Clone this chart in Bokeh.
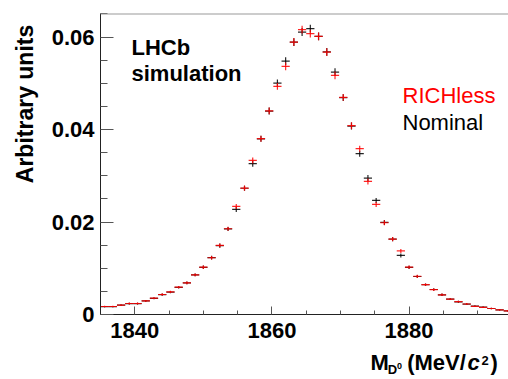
import math
import numpy as np
from bokeh.plotting import figure
from bokeh.layouts import column, row
from bokeh.models import ColumnDataSource, Range1d, FixedTicker, Label, Span
from bokeh.embed import file_html
from bokeh.resources import INLINE

# ---------------- data ----------------
mass_bins = [1835.6, 1836.8, 1838.0, 1839.2, 1840.4, 1841.6, 1842.8, 1844.0, 1845.2, 1846.4,
             1847.6, 1848.8, 1850.0, 1851.2, 1852.4, 1853.6, 1854.8, 1856.0, 1857.2, 1858.4,
             1859.6, 1860.8, 1862.0, 1863.2, 1864.4, 1865.6, 1866.8, 1868.0, 1869.2, 1870.4,
             1871.6, 1872.8, 1874.0, 1875.2, 1876.4, 1877.6, 1878.8, 1880.0, 1881.2, 1882.4,
             1883.6, 1884.8, 1886.0, 1887.2, 1888.4, 1889.6, 1890.8, 1892.0, 1893.2, 1894.4]

richless = [0.00173, 0.00173, 0.00201, 0.00238, 0.00238, 0.00296, 0.00353, 0.00433, 0.00491, 0.00591,
            0.00686, 0.00859, 0.01024, 0.01227, 0.01493, 0.01855, 0.02337, 0.02733, 0.03333, 0.03802,
            0.04404, 0.04934, 0.05367, 0.05893, 0.06161, 0.06074, 0.06016, 0.05676, 0.05172, 0.04696,
            0.04083, 0.03586, 0.02878, 0.02380, 0.01984, 0.01630, 0.01374, 0.01024, 0.00827, 0.00645,
            0.00537, 0.00426, 0.00331, 0.00277, 0.00227, 0.00177, 0.00156, 0.00130, 0.00102, 0.00080]

nominal = [0.00170, 0.00170, 0.00203, 0.00235, 0.00236, 0.00294, 0.00350, 0.00430, 0.00485, 0.00588,
           0.00684, 0.00855, 0.01020, 0.01230, 0.01490, 0.01850, 0.02272, 0.02730, 0.03261, 0.03800,
           0.04400, 0.05005, 0.05481, 0.05890, 0.06109, 0.06183, 0.06016, 0.05680, 0.05243, 0.04690,
           0.04075, 0.03478, 0.02950, 0.02467, 0.01991, 0.01630, 0.01277, 0.01020, 0.00822, 0.00643,
           0.00541, 0.00426, 0.00331, 0.00275, 0.00223, 0.00180, 0.00158, 0.00130, 0.00102, 0.00080]

stat_err = [0.00015, 0.00015, 0.00015, 0.00020, 0.00020, 0.00020, 0.00020, 0.00025, 0.00025, 0.00025,
            0.00030, 0.00030, 0.00038, 0.00038, 0.00045, 0.00045, 0.00055, 0.00055, 0.00065, 0.00065,
            0.00075, 0.00075, 0.00085, 0.00085, 0.00085, 0.00085, 0.00085, 0.00085, 0.00085, 0.00075,
            0.00075, 0.00065, 0.00065, 0.00055, 0.00055, 0.00045, 0.00045, 0.00035, 0.00035, 0.00028,
            0.00028, 0.00028, 0.00020, 0.00020, 0.00020, 0.00015, 0.00015, 0.00015, 0.00015, 0.00015]

bin_half_width = 0.6

x_major_ticks = [1840, 1860, 1880]
x_minor_ticks = [1835, 1845, 1850, 1855, 1865, 1870, 1875, 1885, 1890]
y_major_ticks = [0, 0.02, 0.04, 0.06]
y_tick_labels = ["0", "0.02", "0.04", "0.06"]
y_minor_ticks = [0.005, 0.01, 0.015, 0.025, 0.03, 0.035, 0.045, 0.05, 0.055, 0.065]

FONT = "Liberation Sans"

# ---------------- main figure ----------------
MAIN_H = 348
p = figure(width=468, height=MAIN_H, title=None,
           x_range=Range1d(1835, 1894.5), y_range=Range1d(0, 0.0651),
           output_backend="svg", toolbar_location=None,
           min_border_left=60, min_border_right=0, min_border_top=13, min_border_bottom=34)
p.outline_line_color = None
p.grid.visible = False
p.background_fill_color = "white"
p.border_fill_color = "white"

for ax in (p.xaxis, p.yaxis):
    ax.axis_line_color = "#222222"
    ax.axis_line_width = 1
    ax.major_tick_line_color = "#555555"
    ax.minor_tick_line_color = "#555555"
    ax.major_tick_out = 0
    ax.minor_tick_out = 0
    ax.major_label_text_font = FONT
    ax.major_label_text_font_style = "bold"
    ax.major_label_text_font_size = "22px"
    ax.major_label_text_color = "black"

p.xaxis.ticker = FixedTicker(ticks=x_major_ticks, minor_ticks=x_minor_ticks)
p.xaxis.major_tick_in = 8
p.xaxis.minor_tick_in = 4
p.xaxis.major_label_standoff = 8

p.yaxis.ticker = FixedTicker(ticks=y_major_ticks, minor_ticks=y_minor_ticks)
p.yaxis.major_tick_in = 13
p.yaxis.minor_tick_in = 7
p.yaxis.major_label_standoff = 6
p.yaxis.major_label_overrides = {t: s for t, s in zip(y_major_ticks, y_tick_labels)}

# top frame line
p.add_layout(Span(location=0.0651, dimension="width", line_color="#999999", line_width=2))

x = np.array(mass_bins)
err = np.array(stat_err)


def draw(values, color, alpha):
    y = np.array(values)
    src = ColumnDataSource(dict(x=x, y=y, x0=x - bin_half_width, x1=x + bin_half_width,
                                y0=y - err, y1=y + err))
    p.segment(x0="x0", y0="y", x1="x1", y1="y", source=src, line_color=color,
              line_width=1.2, line_alpha=alpha)
    p.segment(x0="x", y0="y0", x1="x", y1="y1", source=src, line_color=color,
              line_width=1.2, line_alpha=alpha)


draw(nominal, "black", 0.85)
draw(richless, "#ff0000", 0.85)


def lab(fig, x, y, text, size=22, style="normal", color="black", align="left",
        baseline="alphabetic", angle=0.0, units="screen"):
    # alphabetic-baseline labels are drawn ~0.36 em low; compensate
    if baseline == "alphabetic":
        y = y + 0.36 * size
    fig.add_layout(Label(x=x, y=y, x_units=units, y_units=units, text=text,
                         text_font=FONT, text_font_size=f"{size}px", text_font_style=style,
                         text_color=color, text_align=align, text_baseline=baseline,
                         angle=angle))


lab(p, 31, 259, "LHCb", style="bold")
lab(p, 31, 233, "simulation", style="bold")
lab(p, 302, 211, "RICHless", color="#ff0000")
lab(p, 302, 184, "Nominal")


def blank(w, h):
    f = figure(width=w, height=h, title=None, x_range=Range1d(0, w), y_range=Range1d(0, h),
               output_backend="svg", toolbar_location=None,
               x_axis_type=None, y_axis_type=None,
               min_border_left=0, min_border_right=0, min_border_top=0, min_border_bottom=0)
    f.outline_line_color = None
    f.grid.visible = False
    f.background_fill_color = "white"
    f.border_fill_color = "white"
    return f


# y-axis title panel (left of the main figure)
ytitle = blank(40, MAIN_H)
lab(ytitle, 24, MAIN_H - 13, "Arbitrary units", size=23, style="bold", align="right",
    baseline="middle", angle=math.pi / 2, units="data")

# x-axis title panel (below the main figure): M_{D^0} (MeV/c^2)
XT_H = 29
xtitle = blank(508, XT_H)
lab(xtitle, 370, 7, "M", style="bold", units="data")
lab(xtitle, 387.3, 3, "D", size=13, style="bold", units="data")
lab(xtitle, 396.5, 8, "0", size=9, style="bold", units="data")
lab(xtitle, 406.7, 7, "(MeV/", style="bold", units="data")
lab(xtitle, 467, 7, "c", style="bold italic", units="data")
lab(xtitle, 481, 12, "2", size=13, style="bold", units="data")
lab(xtitle, 490, 7, ")", style="bold", units="data")

page = column(row(ytitle, p), xtitle)

open("out.html", "w").write(file_html(page, INLINE))
